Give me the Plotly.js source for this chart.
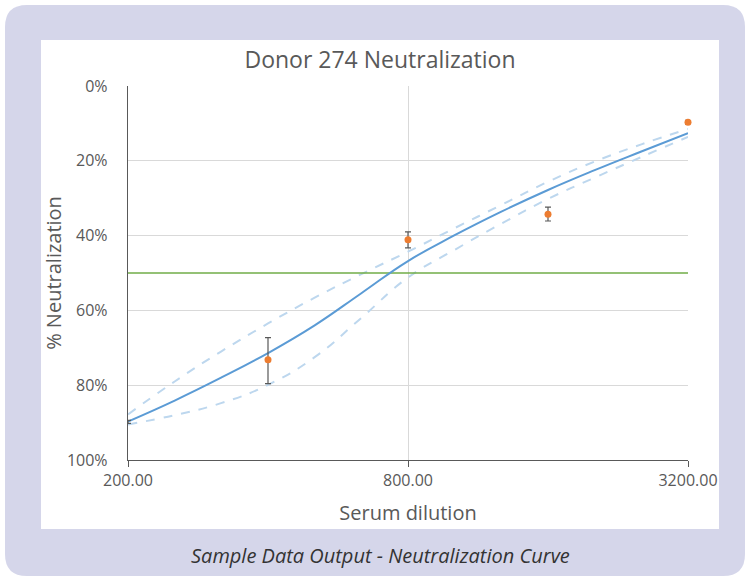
<!DOCTYPE html>
<html><head><meta charset="utf-8">
<script src="https://cdn.plot.ly/plotly-3.0.1.min.js"></script>
<style>html,body{margin:0;padding:0;background:#fff;}#chart{width:746px;height:579px;}</style>
</head><body><div id="chart"></div>
<script>
// Measured points (serum dilution vs % neutralization)
const dilutions = [200, 400, 800, 1600, 3200];
const neutralization = [89.8, 73.2, 41.1, 34.3, 9.7];
const errPlus = [0.4, 6.4, 2.2, 1.8, 0.5];
const errMinus = [0.4, 5.9, 2.1, 1.9, 0.5];

// Fitted curve and confidence band
const fitDilutions = [200, 252, 317, 400, 504, 635, 800, 1008, 1270, 1600, 2016, 2540, 3200];
const fitCurve = [89.7, 84.1, 78.0, 71.4, 64.0, 55.4, 46.8, 39.9, 33.6, 27.8, 22.5, 17.5, 12.6];
const bandUpper = [87.8, 79.0, 71.0, 63.5, 56.6, 50.3, 44.3, 38.0, 31.8, 25.6, 20.2, 15.6, 11.5];
const bandLower = [90.5, 88.0, 84.8, 79.9, 72.5, 62.0, 51.2, 43.8, 36.8, 30.2, 24.5, 19.0, 13.6];

// Threshold line
const thresholdX = [200, 3200];
const thresholdY = [50, 50];

const xTicks = [200, 800, 3200];
const xTickText = ['200.00', '800.00', '3200.00'];
const yTicks = [0, 20, 40, 60, 80, 100];
const yTickText = ['0%', '20%', '40%', '60%', '80%', '100%'];

const W = 746, H = 579;
const L = 128, R = 688, T = 86, B = 460;
const pw = R - L, ph = B - T;
const px = v => (v - L) / pw;
const py = v => (B - v) / ph;

function roundRect(x0, y0, x1, y1, r) {
  const rx = r / pw, ry = r / ph;
  const a = px(x0), b = px(x1), top = py(y0), bot = py(y1);
  return `M${a + rx},${top} L${b - rx},${top} Q${b},${top} ${b},${top - ry} L${b},${bot + ry} Q${b},${bot} ${b - rx},${bot} L${a + rx},${bot} Q${a},${bot} ${a},${bot + ry} L${a},${top - ry} Q${a},${top} ${a + rx},${top} Z`;
}

const fontFam = '"Open Sans", "Noto Sans", sans-serif';
const txt = '#595959';
const sm = 1.3;

const traces = [
  {x: fitDilutions, y: bandUpper, type: 'scatter', mode: 'lines', line: {color: '#BDD7EE', width: 2, dash: 'dash', shape: 'spline', smoothing: sm}, hoverinfo: 'skip'},
  {x: fitDilutions, y: bandLower, type: 'scatter', mode: 'lines', line: {color: '#BDD7EE', width: 2, dash: 'dash', shape: 'spline', smoothing: sm}, hoverinfo: 'skip'},
  {x: thresholdX, y: thresholdY, type: 'scatter', mode: 'lines', line: {color: '#70AD47', width: 1.5}},
  {x: fitDilutions, y: fitCurve, type: 'scatter', mode: 'lines', line: {color: '#5B9BD5', width: 2, shape: 'spline', smoothing: sm}},
  {x: dilutions, y: neutralization, type: 'scatter', mode: 'markers', cliponaxis: false,
   marker: {color: '#ED7D31', size: 7},
   error_y: {type: 'data', symmetric: false, array: errPlus, arrayminus: errMinus, color: '#595959', thickness: 1.2, width: 3}}
];

const layout = {
  width: W, height: H,
  margin: {l: L, r: W - R, t: T, b: H - B},
  paper_bgcolor: '#ffffff',
  plot_bgcolor: '#ffffff',
  showlegend: false,
  font: {family: fontFam, color: txt},
  title: {text: 'Donor 274 Neutralization', font: {family: fontFam, size: 23, color: txt},
          x: 380 / W, xref: 'container', xanchor: 'center', y: 1 - 60 / H, yref: 'container', yanchor: 'middle'},
  xaxis: {
    type: 'log', range: [Math.log10(200), Math.log10(3200)],
    tickvals: xTicks, ticktext: xTickText,
    showgrid: true, gridcolor: '#D9D9D9', gridwidth: 1,
    showline: true, linecolor: '#595959', linewidth: 1.2,
    ticks: 'outside', ticklen: 6, tickcolor: '#595959',
    tickfont: {size: 16, color: txt, family: fontFam},
    zeroline: false,
    title: {text: 'Serum dilution', font: {size: 20, color: txt, family: fontFam}, standoff: 15}
  },
  yaxis: {
    range: [100, 0], tickvals: yTicks, ticktext: yTickText,
    showgrid: true, gridcolor: '#D9D9D9', gridwidth: 1,
    showline: true, linecolor: '#595959', linewidth: 1.2,
    ticks: '', ticklabelstandoff: 16,
    tickfont: {size: 16, color: txt, family: fontFam},
    zeroline: false,
    title: {text: '% Neutralization', font: {size: 20, color: txt, family: fontFam}, standoff: 0}
  },
  shapes: [
    {type: 'path', xref: 'paper', yref: 'paper', path: roundRect(5, 5, 745, 576, 22), fillcolor: '#D5D6EA', line: {width: 0}, layer: 'below'},
    {type: 'rect', xref: 'paper', yref: 'paper', x0: px(41), x1: px(719), y0: py(40), y1: py(529), fillcolor: '#ffffff', line: {width: 0}, layer: 'below'}
  ],
  annotations: [
    {text: '<i>Sample Data Output - Neutralization Curve</i>', xref: 'paper', yref: 'paper', x: px(380), y: py(555),
     xanchor: 'center', yanchor: 'middle', showarrow: false, font: {size: 20, color: '#333333', family: fontFam}}
  ]
};

Plotly.newPlot('chart', traces, layout, {displayModeBar: false, staticPlot: true});
</script></body></html>
